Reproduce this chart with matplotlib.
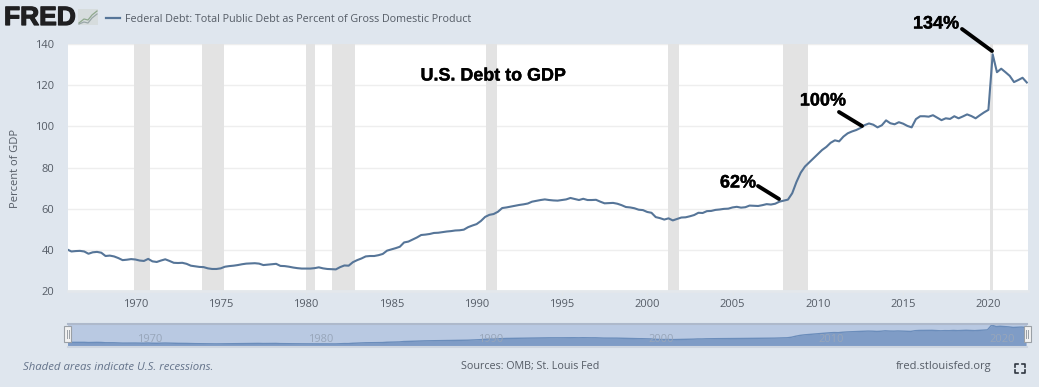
import numpy as np
import matplotlib
matplotlib.use("Agg")
import matplotlib.pyplot as plt
import matplotlib.patheffects as pe
from matplotlib.lines import Line2D
from matplotlib.patches import Rectangle

debt = [40.2,39.2,39.4,39.5, 39.2,38.1,38.8,39.0, 38.6,37.0,37.2,36.8, 36.0,35.0,35.2,35.5,
        35.3,34.8,34.6,35.6, 34.4,34.1,34.8,35.4, 34.6,33.7,33.6,33.7, 33.2,32.3,32.0,31.7,
        31.6,31.0,30.7,30.7, 31.0,31.8,32.1,32.3, 32.6,33.0,33.3,33.4, 33.5,33.3,32.6,32.8,
        33.0,33.2,32.2,32.1, 31.8,31.4,31.1,30.9, 30.9,30.9,31.1,31.5, 31.0,30.7,30.6,30.5,
        31.6,32.4,32.3,34.0, 35.0,35.8,36.8,37.0, 37.0,37.4,38.0,39.6, 40.2,40.8,41.5,43.6,
        44.0,45.0,46.0,47.2, 47.4,47.7,48.2,48.3, 48.6,48.9,49.1,49.4, 49.5,49.8,51.0,51.8,
        52.5,54.0,56.0,57.0, 57.4,58.5,60.3,60.6, 61.0,61.4,61.8,62.1, 62.5,63.4,63.8,64.2,
        64.5,64.2,64.0,63.9, 64.2,64.5,65.2,64.7, 64.2,64.8,64.2,64.2, 64.3,63.4,62.6,62.7,
        62.8,62.4,61.7,60.8, 60.6,60.2,59.5,59.3, 58.4,58.0,55.9,55.4, 54.7,55.3,54.3,55.0,
        55.7,55.8,56.3,56.9, 58.0,57.9,58.8,58.9, 59.4,59.6,59.9,60.0, 60.6,60.9,60.5,60.7,
        61.5,61.4,61.3,61.7, 62.2,62.0,62.4,63.4, 63.9,64.4,67.5,73.0, 77.5,80.5,82.5,84.5,
        86.5,88.5,90.0,92.0, 93.2,92.7,95.0,96.6, 97.5,98.2,99.2,100.6, 101.4,100.8,99.5,100.5,
        102.9,101.5,101.0,102.0, 101.3,100.2,99.5,103.5, 104.9,104.9,104.7,105.4, 104.2,103.0,103.9,103.6,
        104.9,103.9,104.8,105.8, 105.0,103.9,105.4,106.8, 108.0,135.0,126.3,128.0, 126.3,124.5,121.5,122.5,
        123.6,121.3]
quarters = np.arange(len(debt)) / 4 + 1966.0

recession_start = [1969.92,1973.88,1980.0,1981.5,1990.55,2001.2,2007.95,2020.1]
recession_end = [1970.87,1975.2,1980.5,1982.87,1991.2,2001.88,2009.45,2020.25]
y_ticks = [20,40,60,80,100,120,140]
x_ticks = list(range(1970,2021,5))
nav_ticks = [1970,1980,1990,2000,2010,2020]
callouts = ["62%","100%","134%"]

W, H = 1039, 387
BG = "#dfe6ee"
TXT = "#555c66"
plt.rcParams['font.family'] = ['Open Sans','DejaVu Sans']
fig = plt.figure(figsize=(W/100,H/100), dpi=100, facecolor=BG)

def fx(x): return x/W
def fy(y): return 1-y/H
def axpx(l,t,r,b,**k):
    return fig.add_axes([fx(l),fy(b),(r-l)/W,(b-t)/H],**k)

XLIM = (1966.05, 2022.32)
ax = axpx(68,44,1028,291)
ax.set_xlim(*XLIM); ax.set_ylim(20,140)
for s,e in zip(recession_start,recession_end):
    ax.axvspan(s,e,color="#e3e3e3",lw=0,zorder=1)
ax.set_yticks(y_ticks); ax.set_xticks(x_ticks)
ax.set_xticklabels([str(t) for t in x_ticks])
ax.grid(axis='y',color="#eeeeee",lw=1,zorder=0)
ax.tick_params(axis='y',length=0,labelsize=8,labelcolor=TXT,pad=10)
ax.tick_params(axis='x',length=3,color="#e2e6ea",labelsize=8,labelcolor=TXT,pad=3)
for s in ax.spines.values(): s.set_visible(False)
ax.spines['bottom'].set_visible(True); ax.spines['bottom'].set_color("#e4e8ec"); ax.spines['bottom'].set_linewidth(2)
ax.plot(quarters,debt,color="#567598",lw=1.5,zorder=3,solid_joinstyle='round')
ax.set_axisbelow(True)

# navigator
nav = axpx(68,323,1027,347,facecolor="#b9c9e2")
nav.fill_between(quarters,debt,-100,color="#7f9cc6",lw=0,zorder=2)
nav.plot(quarters,debt,color="#6b8dbb",lw=1,zorder=3)
nav.set_xlim(*XLIM); nav.set_ylim(13.5,146)
nav.set_xticks([]); nav.set_yticks([])
for s in nav.spines.values(): s.set_visible(False)
for t in nav_ticks:
    nav.text(t+0.85,0.33,str(t),transform=nav.get_xaxis_transform(),ha='center',va='center',fontsize=8,color="#98a6ba",zorder=4)
fig.add_artist(Line2D([fx(68),fx(1027)],[fy(323.5)]*2,color="#aeb9cb",lw=1.5))
fig.add_artist(Line2D([fx(68),fx(1027)],[fy(347)]*2,color="#cdd5e0",lw=1.5))
for hx in (67.5,1027):
    fig.add_artist(Rectangle((fx(hx-3.5),fy(342)),7/W,16/H,transform=fig.transFigure,fc="#f2f2f2",ec="#9aa0a6",lw=.8,zorder=5))
    for d in (-1,1):
        fig.add_artist(Line2D([fx(hx+d)]*2,[fy(338),fy(330)],color="#9aa0a6",lw=.7,zorder=6))

# header
fred = fig.text(fx(4),fy(18),"FRED",fontsize=19,fontweight='bold',family='Liberation Sans',color="#1f1f21",va='center',ha='left')
fred.set_path_effects([pe.withStroke(linewidth=0.9,foreground="#1f1f21")])
fig.add_artist(Rectangle((fx(78),fy(25)),20/W,16/H,transform=fig.transFigure,fc="#d6dcdd",ec='none'))
fig.add_artist(Line2D([fx(x) for x in (79,84,88,92,97)],[fy(y) for y in (23,19,20,15,11)],color="#8fa88e",lw=.9))
fig.add_artist(Line2D([fx(x) for x in (79,84,88,92,97)],[fy(y) for y in (24,22,23,18,14)],color="#9aa7a8",lw=.9))
fig.add_artist(Line2D([fx(106),fx(120)],[fy(18)]*2,color="#567598",lw=1.6))
fig.text(fx(125),fy(19),"Federal Debt: Total Public Debt as Percent of Gross Domestic Product",fontsize=7.75,color=TXT,va='center',ha='left')
fig.text(fx(16),fy(168),"Percent of GDP",rotation=90,fontsize=8,color=TXT,va='center',ha='center')

# footer
fig.text(fx(23),fy(367),"Shaded areas indicate U.S. recessions.",fontsize=8.2,style='italic',color="#64738a",va='center',ha='left')
fig.text(fx(461),fy(367),"Sources: OMB; St. Louis Fed",fontsize=7.75,color=TXT,va='center',ha='left')
fig.text(fx(896),fy(367),"fred.stlouisfed.org",fontsize=8,color=TXT,va='center',ha='left')
for cx,cy,dx,dy in [(1015,364,1,1),(1025,364,-1,1),(1015,373,1,-1),(1025,373,-1,-1)]:
    fig.add_artist(Line2D([fx(cx+3*dx),fx(cx),fx(cx)],[fy(cy),fy(cy),fy(cy+3*dy)],color="#2f3640",lw=1.2))

# overlays
bold = dict(family='Liberation Sans',fontweight='bold',color='black',va='center',ha='center')
heavy = [pe.withStroke(linewidth=0.25,foreground='black')]
t = fig.text(fx(493.5),fy(76),"U.S. Debt to GDP",fontsize=12.9,**bold); t.set_path_effects(heavy)
for lab,tx,ty,seg in zip(callouts,[738,823,936],[183,101,24],
                         [((758,186),(779,199)),((839,112),(862,126)),((962,29),(992,51))]):
    t = fig.text(fx(tx),fy(ty),lab,fontsize=13,**bold); t.set_path_effects(heavy)
    fig.add_artist(Line2D([fx(seg[0][0]),fx(seg[1][0])],[fy(seg[0][1]),fy(seg[1][1])],color='black',lw=2.8,solid_capstyle='round',zorder=7))

fig.savefig("out.png",dpi=100,facecolor=BG)
